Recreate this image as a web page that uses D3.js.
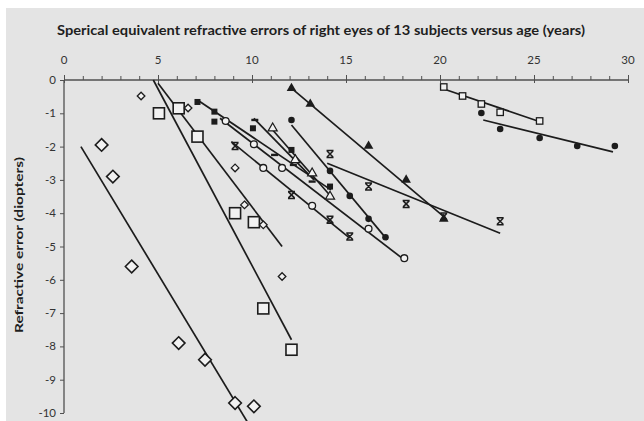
<!DOCTYPE html>
<html>
<head>
<meta charset="utf-8">
<script src="https://cdn.jsdelivr.net/npm/d3@7"></script>
<style>
  html, body { margin: 0; padding: 0; background: #ffffff; }
  svg { display: block; }
</style>
</head>
<body>
<svg id="chart" width="644" height="421"></svg>
<script>
// Age (years) vs spherical equivalent refraction (D), one array per subject.
const subj01 = [[2.0,-1.95],[2.6,-2.9],[3.6,-5.6],[6.1,-7.9],[7.5,-8.4],[9.1,-9.7],[10.1,-9.8]];
const subj02 = [[5.05,-1.0],[6.1,-0.85],[7.1,-1.7],[9.1,-4.0],[10.1,-4.27],[10.6,-6.86],[12.1,-8.1]];
const subj03 = [[4.1,-0.48],[6.6,-0.84],[9.1,-2.64],[9.6,-3.75],[10.6,-4.35],[11.6,-5.9]];
const subj04 = [[20.2,-0.21],[21.2,-0.48],[22.2,-0.72],[23.2,-0.97],[25.3,-1.23]];
const subj05 = [[22.2,-0.99],[23.2,-1.47],[25.3,-1.74],[27.3,-1.98],[29.3,-1.98]];
const subj06 = [[12.1,-0.25],[13.1,-0.72],[16.2,-1.98],[18.2,-3.0],[20.2,-4.17]];
const subj07 = [[14.15,-2.22],[16.2,-3.2],[18.2,-3.72],[20.2,-4.1],[23.2,-4.24]];
const subj08 = [[12.1,-1.2],[14.15,-2.73],[15.2,-3.48],[16.2,-4.17],[17.1,-4.72]];
const subj09 = [[9.1,-1.98],[12.1,-3.45],[14.15,-4.2],[15.2,-4.7]];
const subj10 = [[8.6,-1.23],[10.1,-1.93],[10.6,-2.64],[11.6,-2.64],[13.2,-3.78],[16.2,-4.47],[18.1,-5.35]];
const subj11 = [[11.1,-1.45],[12.3,-2.4],[13.2,-2.8],[14.15,-3.5]];
const subj12 = [[10.15,-1.2],[11.2,-2.25],[12.2,-2.55],[13.2,-3.05]];
const subj13 = [[7.1,-0.66],[8.0,-0.95],[8.0,-1.25],[10.05,-1.45],[12.1,-2.1],[14.15,-3.2]];

// Linear fit end points for each subject: [ageStart, refStart, ageEnd, refEnd]
const fits = [
  [0.9,-2.0,10.0,-10.5],
  [4.75,0.0,12.1,-7.8],
  [5.0,-0.1,11.6,-5.0],
  [20.2,-0.27,25.2,-1.23],
  [22.3,-1.2,29.2,-2.16],
  [12.0,-0.2,20.2,-4.1],
  [14.0,-2.5,23.2,-4.6],
  [12.1,-1.35,17.2,-4.8],
  [8.9,-1.85,15.2,-4.75],
  [8.3,-1.15,18.1,-5.4],
  [11.1,-1.5,14.2,-3.5],
  [10.1,-1.15,13.3,-3.0],
  [7.1,-0.6,14.2,-3.3]
];

// Marker style per subject
const markerKinds = ["bigDiamond","bigSquare","smallDiamond","smallSquare","dot","filledTriangle",
  "star","dot","star","openCircle","openTriangle","dash","filledSquare"];

const xTicks = [0,5,10,15,20,25,30];
const yTicks = [0,-1,-2,-3,-4,-5,-6,-7,-8,-9,-10];

const titleText = "Sperical equivalent refractive errors of right eyes of 13 subjects versus age (years)";
const yLabelText = "Refractive error (diopters)";

const subjects = [subj01,subj02,subj03,subj04,subj05,subj06,subj07,subj08,subj09,subj10,subj11,subj12,subj13];

const svg = d3.select("#chart");
const W = 644, H = 421;

svg.append("rect").attr("x",6).attr("y",8).attr("width",W-6).attr("height",H-8).attr("fill","#e4e4e4");

const x = d3.scaleLinear().domain([0,30]).range([64,628]);
const y = d3.scaleLinear().domain([-10,0]).range([413,80]);

const ink = "#1c1c1c";
const axisInk = "#505050";
const face = "#f2f2f2";

// Title
svg.append("text")
  .attr("x", 321).attr("y", 35)
  .attr("text-anchor","middle")
  .attr("font-family","Lato, 'Open Sans', sans-serif")
  .attr("font-weight","bold")
  .attr("font-size",13.5)
  .attr("fill","#1e1e1e")
  .attr("textLength",528).attr("lengthAdjust","spacingAndGlyphs")
  .text(titleText);

// Y axis title
svg.append("text")
  .attr("transform","translate(23,245) rotate(-90)")
  .attr("text-anchor","middle")
  .attr("font-family","Lato, 'Open Sans', sans-serif")
  .attr("font-weight","bold")
  .attr("font-size",12)
  .attr("fill","#1e1e1e")
  .attr("textLength",176).attr("lengthAdjust","spacingAndGlyphs")
  .text(yLabelText);

// Top x axis (value 0 line)
const xAxis = d3.axisTop(x).tickValues(d3.range(0,31,1)).tickSize(4).tickFormat("");
const gx = svg.append("g").attr("transform",`translate(0,${y(0)})`).call(xAxis);
gx.select(".domain").attr("stroke",axisInk).attr("stroke-width",1.3).attr("d",`M${x(0)},0H${x(30)}`);
gx.selectAll(".tick line").attr("stroke",axisInk).attr("stroke-width",1);
gx.selectAll(".tick").filter(d => d % 5 === 0).select("line").attr("y1",3).attr("y2",-5);

svg.append("g").selectAll("text").data(xTicks).join("text")
  .attr("x", d => x(d)).attr("y", 64)
  .attr("text-anchor","middle")
  .attr("font-family","Lato, 'Open Sans', sans-serif")
  .attr("font-size",11.5).attr("fill","#333")
  .text(d => d);

// Left y axis
const yAxis = d3.axisLeft(y).tickValues(yTicks).tickSize(4).tickFormat("");
const gy = svg.append("g").attr("transform",`translate(${x(0)},0)`).call(yAxis);
gy.select(".domain").attr("stroke",axisInk).attr("stroke-width",1.3).attr("d",`M0,${y(0)}V${y(-10)}`);
gy.selectAll(".tick line").attr("stroke",axisInk).attr("stroke-width",1);

svg.append("g").selectAll("text").data(yTicks).join("text")
  .attr("x", 56).attr("y", d => y(d) + 4)
  .attr("text-anchor","end")
  .attr("font-family","Lato, 'Open Sans', sans-serif")
  .attr("font-size",11.5).attr("fill","#333")
  .text(d => d);

// Fit lines
svg.append("g").selectAll("line").data(fits).join("line")
  .attr("x1", d => x(d[0])).attr("y1", d => y(d[1]))
  .attr("x2", d => x(d[2])).attr("y2", d => y(d[3]))
  .attr("stroke", ink).attr("stroke-width",1.7);

// Marker drawing
function diamondPath(cx, cy, r) {
  return `M${cx},${cy-r}L${cx+r},${cy}L${cx},${cy+r}L${cx-r},${cy}Z`;
}
function drawMarker(g, kind, cx, cy) {
  const sym = (type, size) => d3.symbol().type(type).size(size)();
  switch (kind) {
    case "bigDiamond":
      g.append("path").attr("d", diamondPath(cx, cy, 6.3))
        .attr("fill",face).attr("stroke",ink).attr("stroke-width",1.6); break;
    case "bigSquare":
      g.append("rect").attr("x",cx-5.5).attr("y",cy-5.5).attr("width",11).attr("height",11)
        .attr("fill",face).attr("stroke",ink).attr("stroke-width",1.6); break;
    case "smallDiamond":
      g.append("path").attr("d", diamondPath(cx, cy, 3.8))
        .attr("fill",face).attr("stroke",ink).attr("stroke-width",1.3); break;
    case "smallSquare":
      g.append("rect").attr("x",cx-3.2).attr("y",cy-3.2).attr("width",6.4).attr("height",6.4)
        .attr("fill",face).attr("stroke",ink).attr("stroke-width",1.3); break;
    case "dot":
      g.append("circle").attr("cx",cx).attr("cy",cy).attr("r",3.3).attr("fill",ink); break;
    case "openCircle":
      g.append("circle").attr("cx",cx).attr("cy",cy).attr("r",3.4)
        .attr("fill",face).attr("stroke",ink).attr("stroke-width",1.3); break;
    case "filledTriangle":
      g.append("path").attr("d", sym(d3.symbolTriangle, 40)).attr("transform",`translate(${cx},${cy})`)
        .attr("fill",ink); break;
    case "openTriangle":
      g.append("path").attr("d", sym(d3.symbolTriangle, 36)).attr("transform",`translate(${cx},${cy})`)
        .attr("fill",face).attr("stroke",ink).attr("stroke-width",1.2); break;
    case "filledSquare":
      g.append("rect").attr("x",cx-3).attr("y",cy-3).attr("width",6).attr("height",6).attr("fill",ink); break;
    case "dash":
      g.append("rect").attr("x",cx-3.5).attr("y",cy-1.2).attr("width",7).attr("height",2.4).attr("fill",ink); break;
    case "star":
      g.append("path")
        .attr("d",`M${cx-3.5},${cy-3.5}H${cx+3.5}M${cx-3.5},${cy+3.5}H${cx+3.5}M${cx-3},${cy-3}L${cx+3},${cy+3}M${cx+3},${cy-3}L${cx-3},${cy+3}`)
        .attr("stroke",ink).attr("stroke-width",1.5).attr("fill","none"); break;
  }
}

const gm = svg.append("g");
subjects.forEach((pts, i) => {
  pts.forEach(p => drawMarker(gm, markerKinds[i], x(p[0]), y(p[1])));
});
</script>
</body>
</html>
